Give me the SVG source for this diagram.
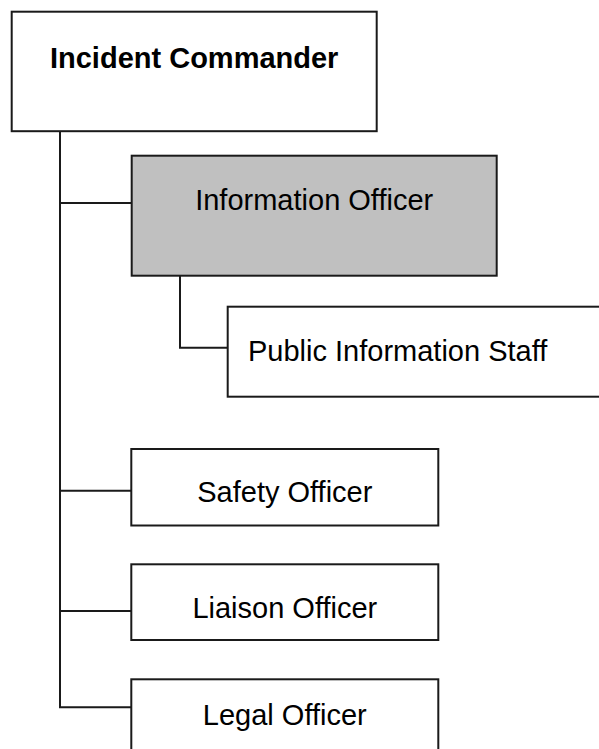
<svg xmlns="http://www.w3.org/2000/svg" width="599" height="749" viewBox="0 0 599 749">
  <style>
    .box { fill: #ffffff; stroke: #1a1a1a; stroke-width: 2; }
    .shaded { fill: #c0c0c0; }
    .lbl { font-family: "Liberation Sans", Arial, sans-serif; font-size: 29px; fill: #000000; }
    .bold { font-weight: bold; }
    .mid { text-anchor: middle; }
    .wire { fill: none; stroke: #1a1a1a; stroke-width: 2; }
  </style>
  <rect width="599" height="749" fill="#ffffff"/>

  <g id="connectors">
    <polyline class="wire" points="60,131.5 60,707.3 131.3,707.3"/>
    <line class="wire" x1="60" y1="203" x2="131.7" y2="203"/>
    <line class="wire" x1="60" y1="490.7" x2="131.3" y2="490.7"/>
    <line class="wire" x1="60" y1="611" x2="131.3" y2="611"/>
    <polyline class="wire" points="180,275.7 180,347.7 227.7,347.7"/>
  </g>

  <g id="incident-commander">
    <rect class="box" x="11.7" y="11.7" width="365" height="119.5"/>
    <text class="lbl bold mid" x="194.2" y="67.7">Incident Commander</text>
  </g>

  <g id="information-officer">
    <rect class="box shaded" x="131.7" y="155.7" width="365" height="120"/>
    <text class="lbl mid" x="314.2" y="210">Information Officer</text>
  </g>

  <g id="public-information-staff">
    <rect class="box" x="227.7" y="306.7" width="400" height="90"/>
    <text class="lbl" x="248" y="360.7">Public Information Staff</text>
  </g>

  <g id="safety-officer">
    <rect class="box" x="131.3" y="449" width="307" height="76.5"/>
    <text class="lbl mid" x="284.8" y="501.7">Safety Officer</text>
  </g>

  <g id="liaison-officer">
    <rect class="box" x="131.3" y="564.3" width="307" height="75.7"/>
    <text class="lbl mid" x="284.8" y="618.3">Liaison Officer</text>
  </g>

  <g id="legal-officer">
    <rect class="box" x="131.3" y="679.3" width="307" height="100"/>
    <text class="lbl mid" x="284.8" y="725">Legal Officer</text>
  </g>
</svg>
